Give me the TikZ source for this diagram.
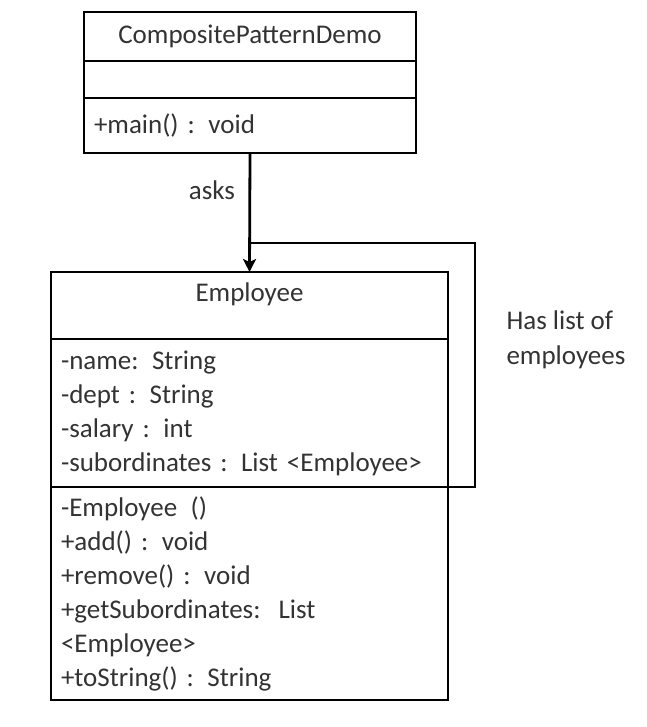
\documentclass[tikz,border=0pt]{standalone}
\usepackage{fontspec}
\setmainfont{Carlito}
\usetikzlibrary{positioning,arrows.meta}

\begin{document}
\begin{tikzpicture}[x=1pt, y=-1pt,
    classpart/.style={draw=black, line width=2.8pt, outer sep=0pt, inner ysep=0pt, inner xsep=10pt,
      font=\fontsize{27}{34}\selectfont, text=black!80},
    memberlist/.style={classpart, align=left, text width=#1},
    link/.style={draw=black, line width=2.8pt},
    note/.style={font=\fontsize{27}{35}\selectfont, text=black!80, align=left}
  ]
  \useasboundingbox (0,0) rectangle (646,727);

  % CompositePatternDemo class
  \node[classpart, minimum width=332pt, minimum height=49pt, anchor=north west] (demotitle) at (84,12) {CompositePatternDemo};
  \node[classpart, minimum width=332pt, minimum height=37pt, below=0pt of demotitle] (demoattr) {};
  \node[memberlist=312pt, minimum width=332pt, minimum height=55pt, below=0pt of demoattr] (demoops) {+main() : void};

  % Employee class
  \node[classpart, minimum width=397pt, minimum height=67pt, text depth=26pt, anchor=north west] (emptitle) at (51,272) {Employee};
  \node[memberlist=377pt, minimum width=397pt, minimum height=148pt, below=0pt of emptitle] (empattr) {-name:\,\ String\\ -dept : String\\ -salary : int\\ -subordinates : List <Employee>};
  \node[memberlist=377pt, minimum width=397pt, minimum height=213pt, below=0pt of empattr] (empops) {-Employee\,\ ()\\ +add() : void\\ +remove() : void\\ +getSubordinates:\ \ List\\ <Employee>\\ +toString() : String};

  % connectors
  \draw[link, -{Stealth[length=13pt, width=13pt, inset=3pt]}] (demoops.south) -- (emptitle.north);
  \node[note] (askslabel) at (212,190) {asks};

  \coordinate (loopstart) at (250,243);
  \coordinate (loopcorner) at (475,487);
  \draw[link] (loopstart) -| (loopcorner) -- (empattr.south east);
  \node[note, anchor=west] (loopnote) at (503,340) {Has list of\\ employees};
\end{tikzpicture}
\end{document}
